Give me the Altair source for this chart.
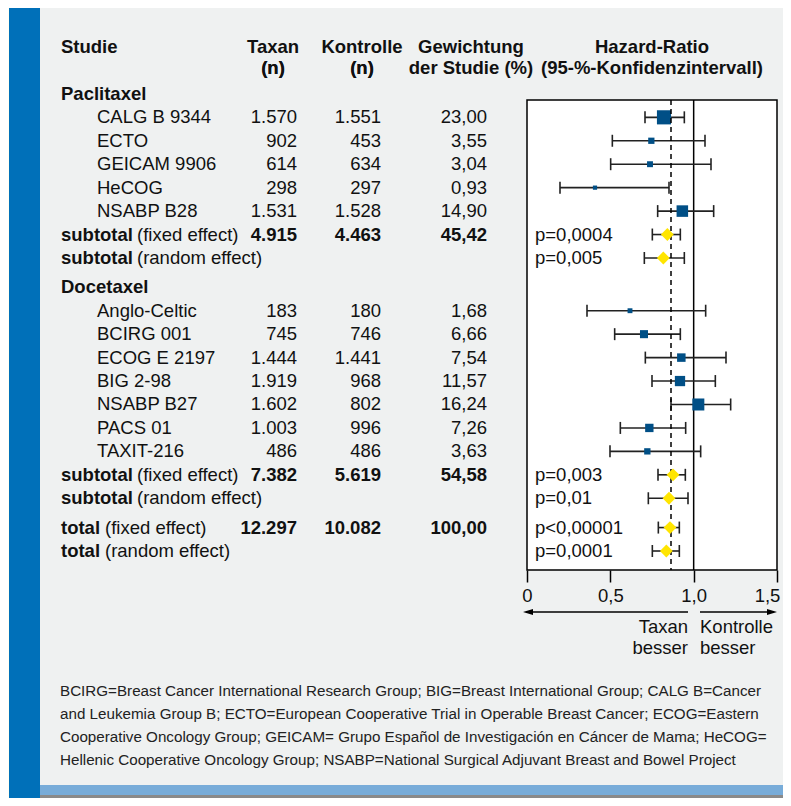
import altair as alt
import pandas as pd

# ---------------- data ----------------
studies = ["CALG B 9344", "ECTO", "GEICAM 9906", "HeCOG", "NSABP B28",
           "Anglo-Celtic", "BCIRG 001", "ECOG E 2197", "BIG 2-98", "NSABP B27",
           "PACS 01", "TAXIT-216"]
study_rows = [0, 1, 2, 3, 4, 8.25, 9.25, 10.25, 11.25, 12.25, 13.25, 14.25]
taxan_n = ["1.570", "902", "614", "298", "1.531", "183", "745", "1.444", "1.919",
           "1.602", "1.003", "486"]
kontrolle_n = ["1.551", "453", "634", "297", "1.528", "180", "746", "1.441", "968",
               "802", "996", "486"]
gewichtung = ["23,00", "3,55", "3,04", "0,93", "14,90", "1,68", "6,66", "7,54",
              "11,57", "16,24", "7,26", "3,63"]
hr = [0.822, 0.746, 0.738, 0.408, 0.932, 0.618, 0.702, 0.926, 0.918, 1.028, 0.734, 0.722]
hr_lo = [0.708, 0.512, 0.502, 0.198, 0.784, 0.360, 0.526, 0.710, 0.750, 0.864, 0.560, 0.498]
hr_hi = [0.944, 1.068, 1.104, 0.852, 1.120, 1.072, 0.920, 1.194, 1.130, 1.222, 0.952, 1.042]

groups = ["Paclitaxel", "Docetaxel"]
group_rows = [-1, 7.25]

sum_kind = ["subtotal", "subtotal", "subtotal", "subtotal", "total", "total"]
sum_effect = ["(fixed effect)", "(random effect)", "(fixed effect)", "(random effect)",
              "(fixed effect)", "(random effect)"]
sum_rows = [5, 6, 15.25, 16.25, 17.5, 18.5]
sum_taxan = ["4.915", "", "7.382", "", "12.297", ""]
sum_kontrolle = ["4.463", "", "5.619", "", "10.082", ""]
sum_weight = ["45,42", "", "54,58", "", "100,00", ""]
sum_p = ["p=0,0004", "p=0,005", "p=0,003", "p=0,01", "p<0,00001", "p=0,0001"]
sum_hr = [0.842, 0.818, 0.876, 0.852, 0.858, 0.836]
sum_lo = [0.752, 0.704, 0.786, 0.728, 0.788, 0.752]
sum_hi = [0.920, 0.944, 0.950, 0.966, 0.914, 0.914]

overall_hr = [0.864]
null_line = [1.0]
tick_values = [0, 0.5, 1.0, 1.5]

header_top = ["Studie", "Taxan", "Kontrolle", "Gewichtung", "Hazard-Ratio"]
header_bottom = ["", "(n)", "(n)", "der Studie (%)", "(95-%-Konfidenzintervall)"]
header_rows = [-3, -2.1]

footnote = [
    "BCIRG=Breast Cancer International Research Group; BIG=Breast International Group; CALG B=Cancer",
    "and Leukemia Group B; ECTO=European Cooperative Trial in Operable Breast Cancer; ECOG=Eastern",
    "Cooperative Oncology Group; GEICAM= Grupo Español de Investigación en Cáncer de Mama; HeCOG=",
    "Hellenic Cooperative Oncology Group; NSABP=National Surgical Adjuvant Breast and Bowel Project",
]

# ---------------- tables ----------------
study_df = pd.DataFrame({
    "name": studies, "row": study_rows, "taxan": taxan_n, "kontrolle": kontrolle_n,
    "gew": gewichtung, "weight": [float(g.replace(",", ".")) for g in gewichtung],
    "hr": hr, "lo": hr_lo, "hi": hr_hi,
})
group_df = pd.DataFrame({"name": groups, "row": group_rows})
sum_df = pd.DataFrame({
    "kind": sum_kind, "effect": sum_effect, "row": sum_rows, "taxan": sum_taxan,
    "kontrolle": sum_kontrolle, "gew": sum_weight, "p": sum_p,
    "hr": sum_hr, "lo": sum_lo, "hi": sum_hi,
})
ht = pd.DataFrame({"row": [header_rows[0]] * 5, "t": header_top})
hb = pd.DataFrame({"row": [header_rows[1]] * 5, "t": header_bottom})
one = pd.DataFrame({"a": [0]})

FONT = "Liberation Sans"
FS = 18.5
INK = "#111111"
W, H = 775, 790

xscale = alt.Scale(domain=[0, 1.5], range=[519, 769], zero=False, nice=False)
yscale = alt.Scale(domain=[-3, 18.5], range=[39, 543], zero=False, nice=False)

AX = alt.Axis(
    values=tick_values, offset=-(H - 562), domain=False, grid=False, tickSize=12,
    tickWidth=1.5, tickColor="black", labelFont=FONT, labelFontSize=FS,
    labelColor=INK, labelPadding=4, labelFlush=False, labelOverlap=False,
    labelOffset={"condition": {"test": "datum.value == 1.5", "value": -10}, "value": 0},
    labelExpr="datum.value == 0 ? '0' : replace(format(datum.value, '.1f'), '.', ',')",
    title=None, zindex=2)


def X(field):
    return alt.X(field, type="quantitative", scale=xscale, axis=AX, title=None)


def Y(field="row"):
    return alt.Y(field, type="quantitative", scale=yscale, axis=None, title=None)


def rect(x1, x2, y1, y2, color, **kw):
    return alt.Chart(one).mark_rect(color=color, **kw).encode(
        x=alt.value(x1), x2=alt.value(x2), y=alt.value(y1), y2=alt.value(y2))


def txt(df, field, x, align="left", bold=False, size=FS):
    return alt.Chart(df).mark_text(
        align=align, baseline="middle", font=FONT, fontSize=size,
        fontWeight="bold" if bold else "normal", color=INK,
    ).encode(x=alt.value(x), y=Y(), text=alt.Text(field + ":N"))


layers = []
# background decoration
layers.append(rect(1, 32, 0, H, "#0070b9"))
layers.append(rect(32, W, 0, 777, "#eff1f1"))
layers.append(rect(32, W, 777, 787, "#78acd9"))
layers.append(rect(32, W, 787, H, "#8a8a8a"))
# forest box
layers.append(rect(519, 769, 92, 562, "white", stroke="black", strokeWidth=1.5))

# null line (carries the x axis)
layers.append(alt.Chart(pd.DataFrame({"v": null_line})).mark_rule(
    color="black", strokeWidth=1.5).encode(x=X("v"), y=alt.value(92), y2=alt.value(562)))

# error bars
for df in (study_df, sum_df):
    layers.append(alt.Chart(df).mark_rule(color="#222222", strokeWidth=1.6).encode(
        x=X("lo"), x2="hi", y=Y()))
    for f in ("lo", "hi"):
        layers.append(alt.Chart(df).mark_tick(
            orient="vertical", size=12, thickness=1.6, color="#222222", opacity=1).encode(
            x=X(f), y=Y()))

# study squares
layers.append(alt.Chart(study_df).mark_square(filled=True, opacity=1, color="#004f86").encode(
    x=X("hr"), y=Y(),
    size=alt.Size("weight:Q", scale=alt.Scale(domain=[0, 23], range=[10, 200]), legend=None)))

# overall dashed line
layers.append(alt.Chart(pd.DataFrame({"v": overall_hr})).mark_rule(
    color="black", strokeWidth=1.5, strokeDash=[5, 4]).encode(
    x=X("v"), y=alt.value(92), y2=alt.value(562)))

# summary diamonds
layers.append(alt.Chart(sum_df).mark_point(
    shape="diamond", filled=True, opacity=1, color="#ffe500", size=165).encode(
    x=X("hr"), y=Y()))

# headers
layers.append(txt(ht[ht.t == "Studie"], "t", 53, "left", True))
for t1, t2, cx in zip(header_top[1:], header_bottom[1:], [265, 354, 463, 644]):
    layers.append(txt(ht[ht.t == t1], "t", cx, "center", True))
    layers.append(txt(hb[hb.t == t2], "t", cx, "center", True))

# group labels
layers.append(txt(group_df, "name", 53, "left", True))
# study rows
layers.append(txt(study_df, "name", 89, "left"))
layers.append(txt(study_df, "taxan", 289, "right"))
layers.append(txt(study_df, "kontrolle", 373, "right"))
layers.append(txt(study_df, "gew", 479, "right"))
# summary rows
sub = sum_df[sum_df.kind == "subtotal"]
tot = sum_df[sum_df.kind == "total"]
layers.append(txt(sum_df, "kind", 53, "left", True))
layers.append(txt(sub, "effect", 129, "left"))
layers.append(txt(tot, "effect", 97, "left"))
layers.append(txt(sum_df, "taxan", 289, "right", True))
layers.append(txt(sum_df, "kontrolle", 373, "right", True))
layers.append(txt(sum_df, "gew", 479, "right", True))
layers.append(txt(sum_df, "p", 527, "left"))

# direction arrows and labels
layers.append(alt.Chart(one).mark_rule(color="black", strokeWidth=1.5).encode(
    x=alt.value(518), x2=alt.value(680), y=alt.value(604)))
layers.append(alt.Chart(one).mark_rule(color="black", strokeWidth=1.5).encode(
    x=alt.value(692), x2=alt.value(766), y=alt.value(604)))
layers.append(alt.Chart(one).mark_point(
    shape="M -1 0 L 1 -0.6 L 1 0.6 Z", filled=True, opacity=1, color="black", size=100).encode(
    x=alt.value(520), y=alt.value(604)))
layers.append(alt.Chart(one).mark_point(
    shape="M 1 0 L -1 -0.6 L -1 0.6 Z", filled=True, opacity=1, color="black", size=100).encode(
    x=alt.value(764), y=alt.value(604)))
arrow_text = pd.DataFrame({"t": ["Taxan", "besser", "Kontrolle", "besser"],
                           "side": ["L", "L", "R", "R"], "line": [0, 1, 0, 1]})
for side, x, al in (("L", 680, "right"), ("R", 692, "left")):
    for ln, yy in ((0, 619), (1, 640)):
        d = arrow_text[(arrow_text.side == side) & (arrow_text.line == ln)]
        layers.append(alt.Chart(d).mark_text(
            align=al, baseline="middle", font=FONT, fontSize=FS, color=INK).encode(
            x=alt.value(x), y=alt.value(yy), text="t:N"))

# footnote
foot_df = pd.DataFrame({"t": footnote, "i": list(range(len(footnote)))})
for i, yy in enumerate([683, 706, 729, 752]):
    layers.append(alt.Chart(foot_df[foot_df.i == i]).mark_text(
        align="left", baseline="middle", font=FONT, fontSize=15.2, color="#222222").encode(
        x=alt.value(52), y=alt.value(yy), text="t:N"))

chart = alt.layer(*layers).properties(
    width=W, height=H, padding=0,
    autosize=alt.AutoSizeParams(type="none"),
    background="#fffff2",
).configure_view(strokeWidth=0)

chart.save("out.html", embed_options={"renderer": "svg", "actions": False})
